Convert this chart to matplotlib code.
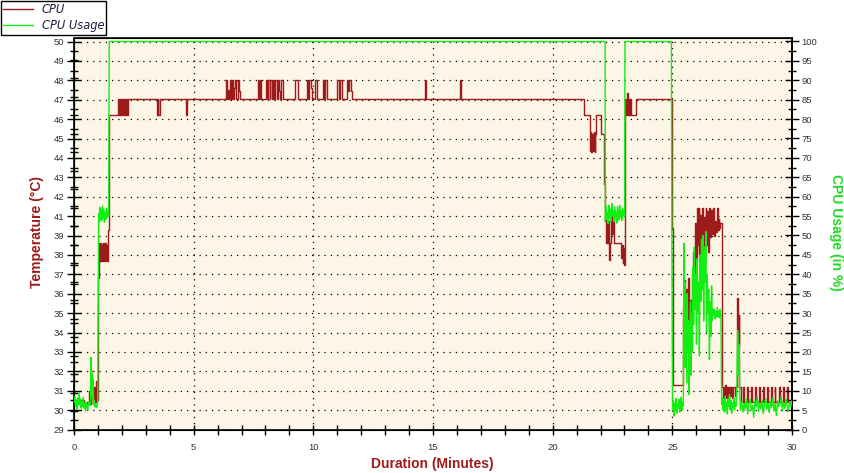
import matplotlib.pyplot as plt
from matplotlib.lines import Line2D
from matplotlib.ticker import MultipleLocator

# CPU temperature (deg C), drawn as a step trace
temp_minutes = [
    0.00, 0.10, 0.25, 0.40, 0.55, 0.62, 0.66, 0.70, 0.73, 0.76, 0.80, 0.84, 0.88, 0.93, 0.97,
    1.01, 1.04, 1.06, 1.09, 1.11, 1.14, 1.17, 1.20, 1.23, 1.26, 1.29, 1.32, 1.35, 1.38, 1.41, 1.44,
    1.47, 1.85, 1.88, 1.91, 1.94, 1.97, 2.01, 2.05, 2.08, 2.11, 2.15, 2.19, 2.23, 2.26,
    3.47, 3.50, 3.52, 3.58, 4.67, 4.71,
    6.35, 6.38, 6.45, 6.48, 6.53, 6.58, 6.62, 6.65, 6.70, 6.74, 6.78, 6.84, 6.90, 6.94,
    7.69, 7.73, 7.77, 7.81, 8.02, 8.08, 8.12, 8.18, 8.21, 8.27, 8.32, 8.36, 8.41, 8.48,
    8.52, 8.58, 8.62, 8.66, 8.73, 9.24, 9.36, 9.74, 9.78, 9.82, 9.90, 9.95,
    10.07, 10.15, 10.41, 10.46, 10.50, 10.57, 10.99, 11.06, 11.10, 11.20,
    11.41, 11.46, 11.50, 11.56, 11.62, 14.66, 14.69, 16.12, 16.15, 16.18,
    21.33, 21.56, 21.59, 21.62, 21.65, 21.68, 21.71, 21.75, 21.78, 21.82, 22.03, 22.13,
    22.19, 22.23, 22.26, 22.29, 22.33, 22.36, 22.39, 22.43, 22.47, 22.51, 22.55,
    22.86, 22.89, 22.92, 22.95, 22.98,
    23.02, 23.06, 23.10, 23.13, 23.17, 23.21, 23.25, 23.29, 23.50,
    24.97, 25.01,
    25.46, 25.50, 25.54, 25.58, 25.62, 25.66, 25.70, 25.73, 25.77, 25.81, 25.85, 25.88,
    25.92, 25.95, 25.99, 26.03, 26.06, 26.10, 26.13, 26.17, 26.20, 26.24, 26.28, 26.31,
    26.35, 26.39, 26.42, 26.46, 26.50, 26.54, 26.57, 26.61, 26.65, 26.69, 26.73, 26.77,
    26.81, 26.85, 26.89, 26.93, 26.97, 27.01,
    27.07, 27.10, 27.14, 27.18, 27.22, 27.26, 27.30, 27.34, 27.38, 27.42, 27.46, 27.50,
    27.55, 27.60, 27.66, 27.70, 27.74, 27.77, 27.80, 27.85,
    27.95, 27.99, 28.12, 28.15, 28.28, 28.32, 28.45, 28.48, 28.62, 28.66, 28.78, 28.82,
    28.95, 28.98, 29.12, 29.16, 29.28, 29.31, 29.45, 29.48, 29.62, 29.66, 29.80, 29.83, 30.00,
]
temp_celsius = [
    30.5, 30.4, 30.6, 30.4, 30.5, 31.1, 30.4, 32.3, 30.7, 31.2, 30.4, 31.3, 30.5, 31.6, 30.6,
    37.2, 38.1, 39.1, 38.1, 39.1, 38.1, 39.0, 38.1, 39.1, 38.1, 39.1, 38.1, 39.0, 38.1, 39.1, 39.8,
    46.0, 46.9, 46.0, 46.9, 46.0, 46.9, 46.0, 46.9, 46.0, 46.9, 46.0, 46.9, 46.0, 46.9,
    46.0, 46.9, 46.0, 46.9, 46.0, 46.9,
    47.9, 46.9, 47.4, 46.9, 47.9, 46.9, 47.9, 46.9, 47.5, 47.9, 46.9, 47.9, 47.3, 46.9,
    47.9, 46.9, 47.9, 46.9, 47.9, 46.9, 47.9, 46.9, 47.9, 46.9, 47.9, 46.9, 47.9, 46.9,
    47.9, 47.3, 46.9, 47.9, 46.9, 47.9, 46.9, 47.9, 46.9, 47.9, 47.5, 46.9,
    47.9, 46.9, 47.9, 46.9, 47.9, 46.9, 47.9, 46.9, 47.9, 46.9,
    47.9, 47.3, 47.9, 47.3, 46.9, 47.9, 46.9, 47.9, 47.4, 46.9,
    46.0, 44.1, 45.1, 44.0, 45.0, 44.1, 45.1, 44.0, 45.0, 46.0, 45.0, 42.3,
    40.5, 39.1, 40.6, 39.1, 40.3, 38.2, 39.1, 40.8, 39.6, 40.7, 39.1,
    38.3, 39.0, 38.0, 38.8, 37.9,
    46.9, 46.0, 47.2, 46.0, 46.9, 46.0, 46.9, 46.0, 46.9,
    39.9, 31.4,
    35.5, 37.1, 34.6, 36.6, 35.0, 37.2, 32.6, 36.0, 34.8, 37.4, 35.6, 38.6,
    37.4, 40.2, 38.1, 41.0, 39.0, 41.0, 38.5, 40.6, 39.2, 41.0, 38.0, 40.5,
    39.3, 41.0, 39.0, 40.8, 38.6, 41.0, 39.4, 40.9, 39.6, 41.0, 39.5, 40.3,
    39.7, 41.0, 39.8, 40.4, 39.9, 40.2,
    31.3, 30.7, 31.3, 30.8, 31.4, 30.7, 31.3, 30.6, 31.3, 30.8, 31.3, 30.7,
    31.3, 30.8, 31.3, 36.1, 33.5, 35.2, 31.3, 30.5,
    31.3, 30.5, 31.3, 30.5, 31.3, 30.5, 31.3, 30.5, 31.3, 30.5, 31.3, 30.5,
    31.3, 30.5, 31.3, 30.5, 31.3, 30.5, 31.3, 30.5, 31.3, 30.5, 31.3, 30.5, 30.5,
]

# CPU usage (%)
usage_minutes = [
    0.00, 0.03, 0.06, 0.09, 0.12, 0.15, 0.18, 0.21, 0.24, 0.27, 0.30, 0.33, 0.36, 0.39, 0.42,
    0.45, 0.48, 0.51, 0.54, 0.57, 0.60, 0.63, 0.66, 0.69, 0.71, 0.73, 0.75, 0.77, 0.79, 0.82,
    0.85, 0.88, 0.91, 0.95, 0.99,
    1.03, 1.06, 1.08, 1.11, 1.13, 1.16, 1.19, 1.21, 1.24, 1.27, 1.30, 1.33, 1.36, 1.39, 1.42, 1.45,
    1.47, 22.19,
    22.20, 22.23, 22.26, 22.29, 22.32, 22.35, 22.38, 22.41, 22.44, 22.47, 22.50, 22.53, 22.56,
    22.59, 22.62, 22.65, 22.68, 22.71, 22.74, 22.77, 22.80, 22.83, 22.86, 22.89, 22.92, 22.95,
    22.98, 23.01, 23.02, 24.96, 24.98,
    25.01, 25.04, 25.07, 25.10, 25.13, 25.16, 25.19, 25.22, 25.25, 25.28, 25.31, 25.34, 25.37,
    25.40, 25.43, 25.46,
    25.48, 25.50, 25.52, 25.54, 25.57, 25.60, 25.62, 25.65, 25.68, 25.70, 25.73, 25.76, 25.78,
    25.81, 25.84, 25.87, 25.89, 25.92, 25.95, 25.98, 26.01, 26.04, 26.07, 26.10, 26.13, 26.16,
    26.19, 26.22, 26.25, 26.28, 26.31, 26.34, 26.37, 26.40, 26.43, 26.46, 26.49, 26.52, 26.55,
    26.58, 26.61, 26.64, 26.67, 26.70, 26.73, 26.76, 26.79, 26.82, 26.85, 26.88, 26.91, 26.94,
    26.97, 27.00, 27.03, 27.06,
    27.09, 27.12, 27.15, 27.18, 27.21, 27.24, 27.27, 27.30, 27.33, 27.36, 27.39, 27.42, 27.45,
    27.48, 27.51, 27.54, 27.57, 27.60, 27.63, 27.66, 27.70, 27.73, 27.76, 27.79, 27.82, 27.85,
    27.90, 27.95, 28.00, 28.05, 28.10, 28.15, 28.20, 28.25, 28.30, 28.35, 28.40, 28.45, 28.50,
    28.55, 28.60, 28.65, 28.70, 28.75, 28.80, 28.85, 28.90, 28.95, 29.00, 29.05, 29.10, 29.15,
    29.20, 29.25, 29.30, 29.35, 29.40, 29.45, 29.50, 29.55, 29.60, 29.65, 29.70, 29.75, 29.80,
    29.85, 29.90, 29.95, 30.00,
]
usage_percent = [
    7.0, 8.5, 6.0, 7.5, 5.2, 8.0, 6.3, 9.5, 6.5, 7.8, 5.5, 7.2, 6.0, 8.2, 5.5,
    6.8, 4.8, 7.0, 6.2, 5.0, 6.5, 7.0, 6.2, 7.5, 18.6, 9.0, 14.5, 8.0, 13.0, 6.5,
    7.5, 5.8, 6.6, 5.7, 7.0,
    55.6, 53.5, 57.2, 54.0, 56.5, 53.8, 57.6, 54.5, 56.8, 53.4, 56.0, 54.2, 57.0, 54.6, 56.2, 55.0,
    100.0, 100.0,
    53.5, 57.5, 54.2, 56.0, 53.0, 57.8, 54.5, 56.8, 53.8, 58.2, 55.0, 56.5, 53.6,
    57.3, 54.8, 56.0, 53.2, 57.5, 55.5, 54.0, 57.8, 54.6, 56.4, 53.9, 57.0, 55.2,
    56.5, 55.0, 100.0, 100.0, 52.0,
    4.9, 7.5, 3.5, 6.8, 5.0, 8.0, 4.2, 6.5, 5.5, 7.8, 4.5, 6.2, 8.3,
    5.0, 7.0, 6.0,
    48.0, 22.0, 38.0, 16.0, 30.0, 12.0, 35.0, 20.0, 28.0, 9.0, 25.0, 33.0, 14.0,
    30.0, 20.0, 42.0, 27.0, 47.0, 31.0, 40.0, 22.0, 44.0, 30.0, 38.0, 19.0, 45.0,
    33.0, 49.0, 36.0, 50.0, 28.0, 47.0, 38.0, 51.0, 25.0, 40.0, 30.0, 36.0, 18.0,
    33.0, 24.0, 37.0, 28.0, 31.0, 29.5, 31.0, 28.5, 30.5, 29.0, 31.5, 29.0, 30.5,
    28.8, 31.0, 29.5, 6.5,
    8.0, 5.0, 7.5, 4.5, 8.5, 5.5, 7.0, 4.0, 8.0, 6.0, 9.0, 5.0, 7.5,
    4.2, 6.8, 5.5, 8.2, 5.0, 7.0, 6.0, 12.0, 25.5, 14.0, 22.0, 8.0, 5.0,
    7.2, 4.5, 6.8, 5.2, 8.0, 4.0, 6.5, 7.8, 5.0, 6.2, 3.2, 7.5, 5.8,
    8.3, 4.6, 6.9, 5.3, 7.6, 4.1, 6.4, 8.0, 5.2, 6.7, 4.4, 7.3, 5.6,
    8.1, 4.8, 6.6, 3.6, 7.4, 5.9, 6.3, 8.4, 4.9, 7.0, 5.4, 7.9, 6.1,
    4.7, 7.2, 5.8, 7.5,
]

temp_tick_labels = [29, 30, 31, 32, 33, 34, 35, 36, 37, 38, 39,
                    41, 42, 43, 44, 45, 46, 47, 48, 49, 50]

red = '#9E1B1B'
green = '#11EE11'
tick_grey = '#333333'
top_frac = 391 / 388   # plot area runs a little above 100 %

fig = plt.figure(figsize=(8.44, 4.73), dpi=100)
ax = fig.add_axes([74 / 844, 43.5 / 473, 718 / 844, 391 / 473])
ax.set_facecolor('#FDF5E6')
ax.set_xlim(0, 30)
ax.set_ylim(29, 29 + 21 * top_frac)

ax2 = ax.twinx()
ax2.set_ylim(0, 100 * top_frac)

# temperature on the left scale, usage on the right one
ax.plot(temp_minutes, temp_celsius, color=red, linewidth=1.0, drawstyle='steps-post', zorder=3)
ax2.plot(usage_minutes, usage_percent, color=green, linewidth=1.0, zorder=3)

# left ticks sit on the usage grid, labelled with the matching temperature
major_t = [29 + 21 * k / 20 for k in range(21)]
minor_t = list(range(29, 51)) + [29 + 21 * (k + 0.5) / 20 for k in range(20)]
ax.set_yticks(major_t)
ax.set_yticklabels([str(v) for v in temp_tick_labels])
ax.set_yticks(minor_t, minor=True)
ax.xaxis.set_major_locator(MultipleLocator(5))
ax.xaxis.set_minor_locator(MultipleLocator(1))
ax2.yaxis.set_major_locator(MultipleLocator(5))
ax2.yaxis.set_minor_locator(MultipleLocator(2.5))

label_family = ['Liberation Sans', 'DejaVu Sans']
for a in (ax, ax2):
    a.tick_params(which='major', direction='inout', length=10, width=1, color='black',
                  labelcolor=tick_grey, pad=2)
    a.tick_params(which='minor', direction='inout', length=6, width=1, color='black')
    for lab in a.get_xticklabels() + a.get_yticklabels():
        lab.set_fontfamily(label_family)
        lab.set_fontsize(6.8)
ax.tick_params(axis='x', which='major', length=7, pad=6)
ax.tick_params(axis='x', which='minor', length=7)

for s in ax.spines.values():
    s.set_linewidth(1.2)
    s.set_color('black')
ax2.spines['right'].set_linewidth(1.2)

ax.grid(which='major', color='black', linestyle=(0, (1, 4)), linewidth=0.9)
ax.set_axisbelow(True)

title_font = ['Liberation Sans', 'DejaVu Sans']
fig.text(37 / 844, 1 - 232 / 473, 'Temperature (°C)', rotation=90, ha='center', va='center',
         color=red, fontweight='bold', fontsize=10, family=title_font)
fig.text(836 / 844, 1 - 232 / 473, 'CPU Usage (in %)', rotation=270, ha='center', va='center',
         color='#22DD22', fontweight='bold', fontsize=10, family=title_font)
fig.text(432 / 844, 1 - 464 / 473, 'Duration (Minutes)', ha='center', va='center',
         color=red, fontweight='bold', fontsize=10, family=title_font)

handles = [Line2D([], [], color=red, linewidth=1.0), Line2D([], [], color=green, linewidth=1.0)]
leg = fig.legend(handles, ['CPU', 'CPU Usage'], loc='upper left', bbox_to_anchor=(0.0, 1.0),
                 frameon=True, fancybox=False, edgecolor='black', framealpha=1,
                 prop={'style': 'italic', 'size': 8.3}, labelcolor='#1E1E46',
                 borderaxespad=0.1, handlelength=2.6, borderpad=0.2, labelspacing=0.25,
                 handletextpad=0.7)
leg.get_frame().set_linewidth(1.0)

fig.savefig('out.png', dpi=100)
